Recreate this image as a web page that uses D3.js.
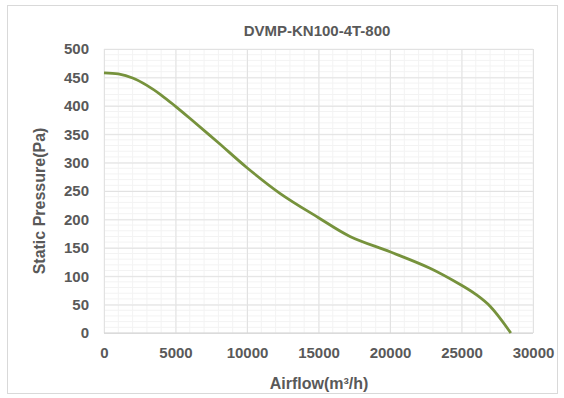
<!DOCTYPE html>
<html><head><meta charset="utf-8">
<script src="https://cdn.jsdelivr.net/npm/d3@7"></script>
<style>
body{margin:0;background:#fff;}
text{font-family:"Liberation Sans",Arial,sans-serif;font-weight:bold;fill:#595959;}
</style></head>
<body><svg id="c" width="564" height="398"></svg>
<script>
const title = "DVMP-KN100-4T-800";
const xTitle = "Airflow(m³/h)";
const yTitle = "Static Pressure(Pa)";
const airflow  = [0, 1000, 2000, 3000, 4000, 5000, 6000, 8000, 10000, 12300, 15000, 17200, 20000, 22800, 25000, 26000, 27000, 28450];
const pressure = [458, 456, 449, 436, 419, 399, 378, 335, 291, 246, 203, 170, 143, 114, 84, 68, 47, 0];
const xTicks = [0, 5000, 10000, 15000, 20000, 25000, 30000];
const yTicks = [0, 50, 100, 150, 200, 250, 300, 350, 400, 450, 500];

const svg = d3.select("#c");
const L = 104, R = 533, T = 49, B = 333;
const x = d3.scaleLinear().domain([0, 30000]).range([L, R]);
const y = d3.scaleLinear().domain([0, 500]).range([B, T]);

svg.append("rect").attr("x", 7.5).attr("y", 5.5).attr("width", 550).attr("height", 388)
  .attr("fill", "#fff").attr("stroke", "#d9d9d9");

// minor grid
svg.append("g").selectAll("line").data(d3.range(0, 30001, 1000)).join("line")
  .attr("x1", d => x(d)).attr("x2", d => x(d)).attr("y1", T).attr("y2", B)
  .attr("stroke", "#f3f3f3");
svg.append("g").selectAll("line").data(d3.range(0, 501, 10)).join("line")
  .attr("y1", d => y(d)).attr("y2", d => y(d)).attr("x1", L).attr("x2", R)
  .attr("stroke", "#f3f3f3");

// major grid via axes
const gx = svg.append("g").attr("transform", `translate(0,${B})`)
  .call(d3.axisBottom(x).tickValues(xTicks).tickFormat(d3.format("d")).tickSize(-(B - T)).tickPadding(14));
gx.select(".domain").remove();
gx.selectAll("line").attr("stroke", "#e2e2e2");
gx.selectAll("text").attr("font-size", 15).style("font-weight", "bold");

const gy = svg.append("g").attr("transform", `translate(${L},0)`)
  .call(d3.axisLeft(y).tickValues(yTicks).tickSize(-(R - L)).tickPadding(15));
gy.select(".domain").remove();
gy.selectAll("line").attr("stroke", "#e2e2e2");
gy.selectAll("text").attr("font-size", 15).style("font-weight", "bold");

svg.append("line").attr("x1", L).attr("x2", R).attr("y1", B).attr("y2", B).attr("stroke", "#d4d4d4");

const pts = airflow.map((a, i) => [a, pressure[i]]);
svg.append("path").datum(pts)
  .attr("fill", "none").attr("stroke", "#76923c").attr("stroke-width", 2.8)
  .attr("d", d3.line().x(d => x(d[0])).y(d => y(d[1])).curve(d3.curveCatmullRom.alpha(0.5)));

svg.append("text").attr("x", 317).attr("y", 36).attr("text-anchor", "middle")
  .attr("font-size", 15).text(title);
svg.append("text").attr("x", 319).attr("y", 389).attr("text-anchor", "middle")
  .attr("font-size", 16).text(xTitle);
svg.append("text").attr("transform", "translate(45,201) rotate(-90)").attr("text-anchor", "middle")
  .attr("font-size", 16).text(yTitle);
</script></body></html>
